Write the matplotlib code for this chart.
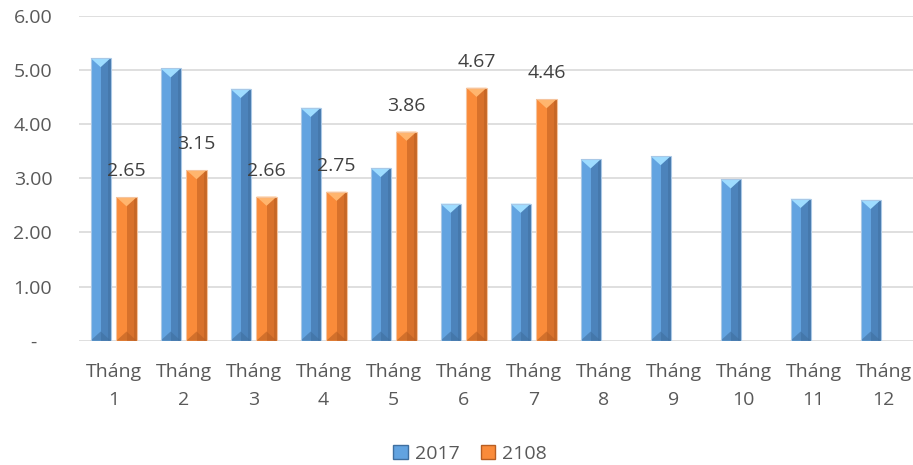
import numpy as np
import matplotlib
matplotlib.use("Agg")
import matplotlib.pyplot as plt
from matplotlib.patches import Polygon, Rectangle, Patch

# dữ liệu
thang = ["Tháng\n1", "Tháng\n2", "Tháng\n3", "Tháng\n4", "Tháng\n5", "Tháng\n6",
         "Tháng\n7", "Tháng\n8", "Tháng\n9", "Tháng\n10", "Tháng\n11", "Tháng\n12"]
v2017 = [5.22, 5.03, 4.65, 4.30, 3.19, 2.53, 2.53, 3.35, 3.41, 2.98, 2.62, 2.60]
v2108 = [2.65, 3.15, 2.66, 2.75, 3.86, 4.67, 4.46]
nhan_2108 = ["2.65", "3.15", "2.66", "2.75", "3.86", "4.67", "4.46"]
yticks = [0, 1, 2, 3, 4, 5, 6]
ytick_labels = ["-   ", "1.00", "2.00", "3.00", "4.00", "5.00", "6.00"]

plt.rcParams['font.family'] = ['Open Sans', 'DejaVu Sans']

W, H = 913, 465
fig = plt.figure(figsize=(W / 100, H / 100), dpi=100)
left_px, bottom_px, top_px = 78.6, 340.7, 15.7
ax = fig.add_axes([left_px / W, (H - bottom_px) / H, 1 - left_px / W, (bottom_px - top_px) / H])

step_px = 70.0
bw = 0.29
off = 0.185
x = np.arange(len(thang))

# màu
blue = dict(base="#62a3e0", dark="#4c83bb", top="#9edcff", bot="#3f6f9f", edge="#a9c8e6")
orange = dict(base="#fa8b3a", dark="#d8712b", top="#ffb56e", bot="#b85e22", edge="#f5c49e")

def bevel(bars, c):
    for p in bars:
        x0, w, h = p.get_x(), p.get_width(), p.get_height()
        t = min(0.17, h / 2)
        ax.add_patch(Rectangle((x0 + w * 0.5, 0), w * 0.5, h, facecolor=c["dark"],
                               edgecolor="none", zorder=3))
        ax.add_patch(Rectangle((x0 + w * 0.88, 0), w * 0.12, h, facecolor=c["bot"],
                               edgecolor="none", alpha=0.5, zorder=3))
        ax.add_patch(Polygon([(x0, h), (x0 + w, h), (x0 + w / 2, h - t)], closed=True,
                             facecolor=c["top"], edgecolor="none", zorder=4))
        ax.add_patch(Polygon([(x0, 0), (x0 + w, 0), (x0 + w / 2, t)], closed=True,
                             facecolor=c["bot"], edgecolor="none", alpha=0.6, zorder=4))
        ax.add_patch(Rectangle((x0, 0), w, h, facecolor="none", edgecolor=c["edge"],
                               linewidth=0.8, zorder=5))

b1 = ax.bar(x - off, v2017, width=bw, color=blue["base"], zorder=2)
b2 = ax.bar(x[:len(v2108)] + off, v2108, width=bw, color=orange["base"], zorder=2)
bevel(b1, blue)
bevel(b2, orange)

for xi, v, s in zip(x[:len(v2108)] + off, v2108, nhan_2108):
    ax.annotate(s, (xi, v), xytext=(0, 12), textcoords="offset points",
                ha="center", va="bottom", fontsize=14, color="#404040", zorder=6)

ax.set_ylim(0, 6)
ax.set_xlim(-0.5, -0.5 + (W - left_px) / step_px)
ax.set_yticks(yticks)
ax.set_yticklabels(ytick_labels)
ax.set_xticks(x)
ax.set_xticklabels(thang)
for lb in ax.get_xticklabels():
    lb.set_linespacing(1.75)

ax.grid(axis="y", color="#d9d9d9", linewidth=1.2, zorder=0)
ax.set_axisbelow(True)
for s in ax.spines.values():
    s.set_visible(False)
ax.tick_params(axis="both", length=0, labelsize=14, labelcolor="#595959")
ax.tick_params(axis="y", pad=19)
ax.tick_params(axis="x", pad=16)

handles = [Patch(facecolor=blue["base"], edgecolor=blue["bot"]),
           Patch(facecolor=orange["base"], edgecolor=orange["bot"])]
fig.legend(handles, ["2017", "2108"], loc="center", bbox_to_anchor=(470 / W, 11 / H),
           ncol=2, frameon=False, fontsize=14, labelcolor="#595959",
           handlelength=0.75, handleheight=0.75, handletextpad=0.35, columnspacing=1.1)

fig.savefig("out.png", dpi=100)
